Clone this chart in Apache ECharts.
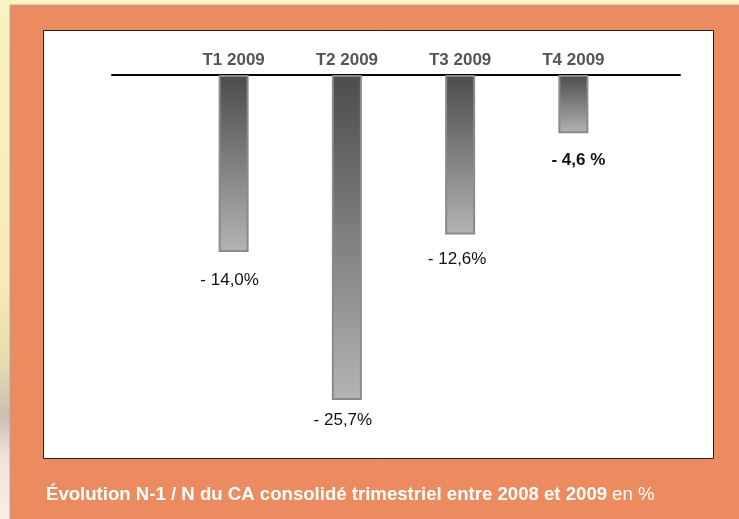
<!DOCTYPE html>
<html>
<head>
<meta charset="utf-8">
<script src="https://cdn.jsdelivr.net/npm/echarts@6/dist/echarts.min.js"></script>
<style>
	html,body{margin:0;padding:0;}
	body{background:linear-gradient(180deg,#fbf2c2 0%,#f6ebb4 55%,#e6dcae 70%,#c9bfb2 80%,#efe2d6 88%,#fbeee4 100%);}
	#main{width:739px;height:519px;}
</style>
</head>
<body>
<div id="main"></div>
<script>
	// données
	let trimestres=['T1 2009','T2 2009','T3 2009','T4 2009'];
	let evolution=[-14.0,-25.7,-12.6,-4.6];
	let etiquettes=['- 14,0%','- 25,7%','- 12,6%','- 4,6 %'];

	let myChart=echarts.init(document.getElementById('main'));

	// placement des étiquettes sous chaque barre
	let distances=[20,12,16,19];
	let decalages=[-4,-4,-3,5];

	let police='Liberation Sans, Arial, sans-serif';

	myChart.setOption({
		backgroundColor:'transparent',
		animation:false,
		textStyle:{fontFamily:police},
		title:{
			left:41,
			top:480,
			text:'{b|Évolution N-1 / N du CA consolidé trimestriel entre 2008 et 2009} {n|en %}',
			textStyle:{
				rich:{
					b:{color:'#fff',fontSize:18.6,fontWeight:'bold',fontFamily:police},
					n:{color:'#fff',fontSize:18.6,fontWeight:'normal',fontFamily:police}
				}
			}
		},
		graphic:[
			//cadre orange
			{type:'rect',shape:{x:10,y:5,width:740,height:520},style:{fill:'#eb8b5f',stroke:'#a8a8a8',lineWidth:1},z:-10},
			//zone blanche
			{type:'rect',shape:{x:43.5,y:30.5,width:670,height:428},style:{fill:'#fff',stroke:'#222',lineWidth:1},z:-9}
		],
		grid:[
			{left:177,right:109,top:75,height:379.5},
			{left:112,right:59,top:75,height:379.5}
		],
		xAxis:[
			{
				type:'category',
				gridIndex:0,
				position:'top',
				data:trimestres,
				axisLine:{show:false},
				axisTick:{show:false},
				axisLabel:{color:'#555',fontSize:17,fontWeight:'bold',margin:6}
			},
			{
				//ligne de l'axe sur toute la largeur
				type:'category',
				gridIndex:1,
				position:'top',
				data:trimestres,
				axisLine:{show:true,lineStyle:{color:'#000',width:2}},
				axisTick:{show:false},
				axisLabel:{show:false}
			}
		],
		yAxis:[
			{type:'value',gridIndex:0,min:-30,max:0,show:false},
			{type:'value',gridIndex:1,min:-30,max:0,show:false}
		],
		series:[
			{
				type:'bar',
				xAxisIndex:0,
				yAxisIndex:0,
				barWidth:30,
				data:evolution.map(function(v,i){
					return {
						value:v,
						label:{
							distance:distances[i],
							offset:[decalages[i],0],
							fontWeight:i==3?'bold':'normal'
						}
					};
				}),
				itemStyle:{
					borderColor:'#8a8a8a',
					borderWidth:2,
					color:new echarts.graphic.LinearGradient(0,0,0,1,[
						{offset:0,color:'#4c4c4c'},
						{offset:0.45,color:'#7a7a7a'},
						{offset:1,color:'#b4b4b4'}
					])
				},
				label:{
					show:true,
					position:'bottom',
					color:'#111',
					fontSize:17,
					formatter:function(p){return etiquettes[p.dataIndex];}
				},
				z:3
			}
		]
	});
</script>
</body>
</html>
